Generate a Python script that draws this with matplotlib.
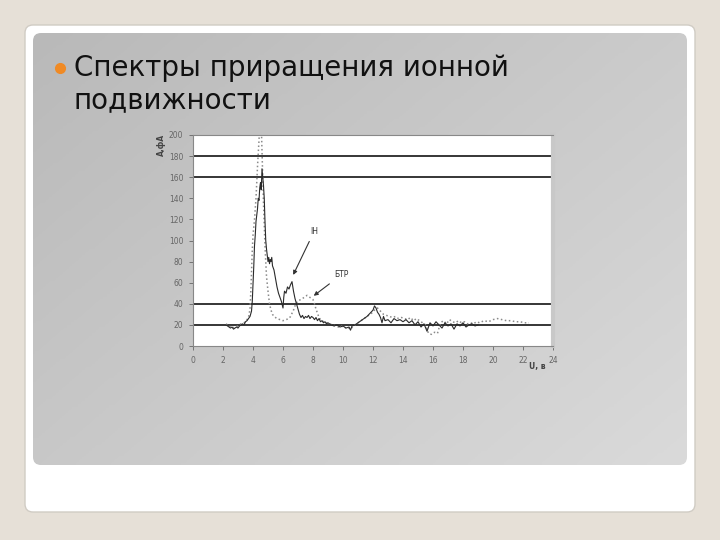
import numpy as np
import matplotlib
matplotlib.use("Agg")
import matplotlib.pyplot as plt
from matplotlib.patches import FancyBboxPatch

# --- данные ---
u_solid = [2.2, 2.3, 2.4, 2.5, 2.6, 2.7, 2.8, 2.9, 3.0, 3.1, 3.2, 3.3, 3.4, 3.5, 3.6, 3.7, 3.8, 3.9,
           3.95, 4.0, 4.05, 4.1, 4.15, 4.2, 4.3, 4.35, 4.4, 4.45, 4.5, 4.55, 4.6, 4.65, 4.7, 4.75,
           4.8, 4.85, 4.9, 4.95, 5.0, 5.05, 5.1, 5.15, 5.2, 5.25, 5.3, 5.4, 5.5, 5.6, 5.7, 5.8, 5.9,
           6.0, 6.05, 6.1, 6.2, 6.3, 6.4, 6.5, 6.6, 6.7, 6.8, 6.9, 7.0, 7.1, 7.2, 7.3, 7.4, 7.5, 7.6,
           7.7, 7.8, 7.9, 8.0, 8.1, 8.2, 8.3, 8.4, 8.5, 8.6, 8.7, 8.8, 8.9, 9.0, 9.2, 9.4, 9.6, 9.8,
           10.0, 10.2, 10.4, 10.5, 10.6, 10.8, 11.0, 11.2, 11.4, 11.6, 11.8, 12.0, 12.1, 12.2, 12.3,
           12.4, 12.5, 12.6, 12.7, 12.8, 13.0, 13.2, 13.4, 13.6, 13.8, 14.0, 14.2, 14.4, 14.6, 14.8,
           15.0, 15.2, 15.4, 15.6, 15.8, 16.0, 16.2, 16.4, 16.6, 16.8, 17.0, 17.2, 17.4, 17.6, 17.8,
           18.0, 18.2, 18.4, 18.6, 18.8, 19.0]
a_solid = [20, 19, 18, 17, 18, 16, 17, 18, 17, 19, 20, 21, 20, 23, 24, 26, 28, 33,
           42, 58, 75, 95, 105, 118, 130, 140, 138, 150, 155, 148, 168, 160, 152, 140,
           118, 100, 92, 86, 80, 84, 78, 82, 80, 84, 76, 72, 64, 56, 50, 46, 42,
           36, 46, 52, 50, 56, 54, 58, 61, 52, 45, 40, 35, 30, 27, 29, 26, 28, 27,
           29, 26, 28, 27, 25, 27, 24, 26, 23, 24, 22, 23, 21, 22, 20, 19, 20, 18,
           19, 17, 18, 15, 19, 20, 22, 24, 26, 28, 31, 34, 38, 36, 32,
           30, 27, 22, 28, 24, 25, 22, 26, 24, 25, 23, 25, 22, 24, 20,
           23, 18, 21, 14, 22, 19, 23, 20, 17, 22, 19, 21, 16, 21, 19,
           22, 18, 20, 21, 19, 20]

u_dot = [2.2, 2.4, 2.6, 2.8, 3.0, 3.2, 3.4, 3.6, 3.7, 3.8, 3.85, 3.9, 3.95, 4.0, 4.1, 4.2, 4.3,
         4.4, 4.45, 4.55, 4.6, 4.65, 4.7, 4.75, 4.8, 4.85, 4.9, 5.0, 5.1, 5.2, 5.3, 5.4, 5.5, 5.6,
         5.8, 6.0, 6.2, 6.4, 6.5, 6.6, 6.7, 6.8, 6.9, 7.0, 7.2, 7.4, 7.6, 7.8, 8.0, 8.1, 8.2, 8.3,
         8.4, 8.5, 8.7, 8.9, 9.1, 9.3, 9.5, 9.7, 9.9, 10.1, 10.3, 10.5, 10.7, 10.9, 11.1, 11.3,
         11.5, 11.7, 11.9, 12.1, 12.3, 12.5, 12.7, 12.9, 13.1, 13.3, 13.5, 13.7, 13.9, 14.1, 14.3,
         14.5, 14.7, 14.9, 15.1, 15.3, 15.5, 15.7, 15.9, 16.1, 16.3, 16.5, 16.7, 16.9, 17.1, 17.3,
         17.5, 17.7, 17.9, 18.1, 18.3, 18.5, 18.7, 18.9, 19.1, 19.4, 19.7, 20.0, 20.3, 20.6, 20.9,
         21.2, 21.5, 21.8, 22.1, 22.4]
a_dot = [21, 19, 17, 18, 19, 21, 22, 25, 27, 35, 50, 70, 90, 105, 120, 140, 170,
         195, 210, 210, 185, 160, 135, 115, 95, 80, 66, 52, 40, 34, 30, 28, 27, 26,
         25, 24, 25, 26, 28, 31, 34, 38, 41, 43, 44, 46, 48, 46, 44, 40, 35, 31,
         27, 25, 23, 22, 21, 20, 19, 18, 19, 17, 18, 16, 19, 21, 23, 25,
         27, 29, 31, 34, 36, 33, 30, 29, 28, 27, 28, 26, 27, 26, 25,
         27, 24, 26, 24, 22, 20, 12, 11, 13, 12, 22, 24, 21, 25, 23,
         22, 24, 22, 23, 21, 22, 21, 23, 22, 24, 23, 25, 26, 25, 24,
         24, 23, 23, 22, 22]

y_ticks = [0, 20, 40, 60, 80, 100, 120, 140, 160, 180, 200]
x_ticks = [0, 2, 4, 6, 8, 10, 12, 14, 16, 18, 20, 22, 24]
grid_levels = [20, 40, 160, 180]

fig = plt.figure(figsize=(7.2, 5.4), dpi=100)
fig.patch.set_facecolor("#e6e0d7")

# фон слайда
bg = fig.add_axes([0, 0, 1, 1])
bg.set_xlim(0, 720)
bg.set_ylim(540, 0)
bg.axis("off")
card = FancyBboxPatch((25, 25), 670, 487, boxstyle="round,pad=0,rounding_size=8",
                      facecolor="white", edgecolor="#d0ccc4", linewidth=1)
bg.add_patch(card)
panel = FancyBboxPatch((33, 33), 654, 432, boxstyle="round,pad=0,rounding_size=8",
                       facecolor="none", edgecolor="none")
bg.add_patch(panel)
gx, gy = np.meshgrid(np.linspace(0, 1, 200), np.linspace(0, 1, 150))
grad = 0.55 * gx + 0.45 * gy
img = bg.imshow(grad, extent=[33, 687, 465, 33], cmap=matplotlib.colors.LinearSegmentedColormap.from_list(
    "g", ["#b9b9b9", "#dadada"]), aspect="auto", zorder=1)
img.set_clip_path(panel)

bg.plot([60], [68], "o", color="#f08a24", markersize=7, zorder=3)
bg.text(74, 68, "Спектры приращения ионной", fontsize=20, color="#111111",
        va="center", ha="left", zorder=3)
bg.text(74, 100, "подвижности", fontsize=20, color="#111111",
        va="center", ha="left", zorder=3)

# график
ax = fig.add_axes([193 / 720, 1 - 346 / 540, 360 / 720, 211 / 540])
ax.set_facecolor("white")
ax.set_xlim(0, 24)
ax.set_ylim(0, 200)
for lv in grid_levels:
    ax.axhline(lv, color="black", linewidth=1.1, zorder=1)
ax.plot(u_dot, a_dot, linestyle=":", color="#8a8a8a", linewidth=1.1, zorder=2)
ax.plot(u_solid, a_solid, color="#2a2a2a", linewidth=0.8, zorder=3)

ax.set_xticks(x_ticks)
ax.set_yticks(y_ticks)
ax.tick_params(labelsize=5.5, colors="#666666", length=3, width=0.6, pad=4)
for side in ["left", "top", "bottom"]:
    ax.spines[side].set_color("#888888")
    ax.spines[side].set_linewidth(0.8)
ax.spines["right"].set_color("#c8c8c8")
ax.spines["right"].set_linewidth(3)

ax.annotate("IH", xy=(6.6, 65), xytext=(7.8, 106), fontsize=5.5, color="#333333",
            arrowprops=dict(arrowstyle="-|>", color="#333333", lw=0.8, mutation_scale=6))
ax.annotate("БТР", xy=(7.9, 46), xytext=(9.4, 65), fontsize=5.5, color="#333333",
            arrowprops=dict(arrowstyle="-|>", color="#333333", lw=0.8, mutation_scale=6))

bg.text(161, 145, "А,фА", rotation=90, fontsize=5.5, color="#444444",
        ha="center", va="center", zorder=3, fontweight="bold")
bg.text(537, 367, "U, в", fontsize=5.5, color="#444444", ha="center", va="center",
        zorder=3, fontweight="bold")

fig.savefig("out.png", dpi=100, facecolor=fig.get_facecolor())
